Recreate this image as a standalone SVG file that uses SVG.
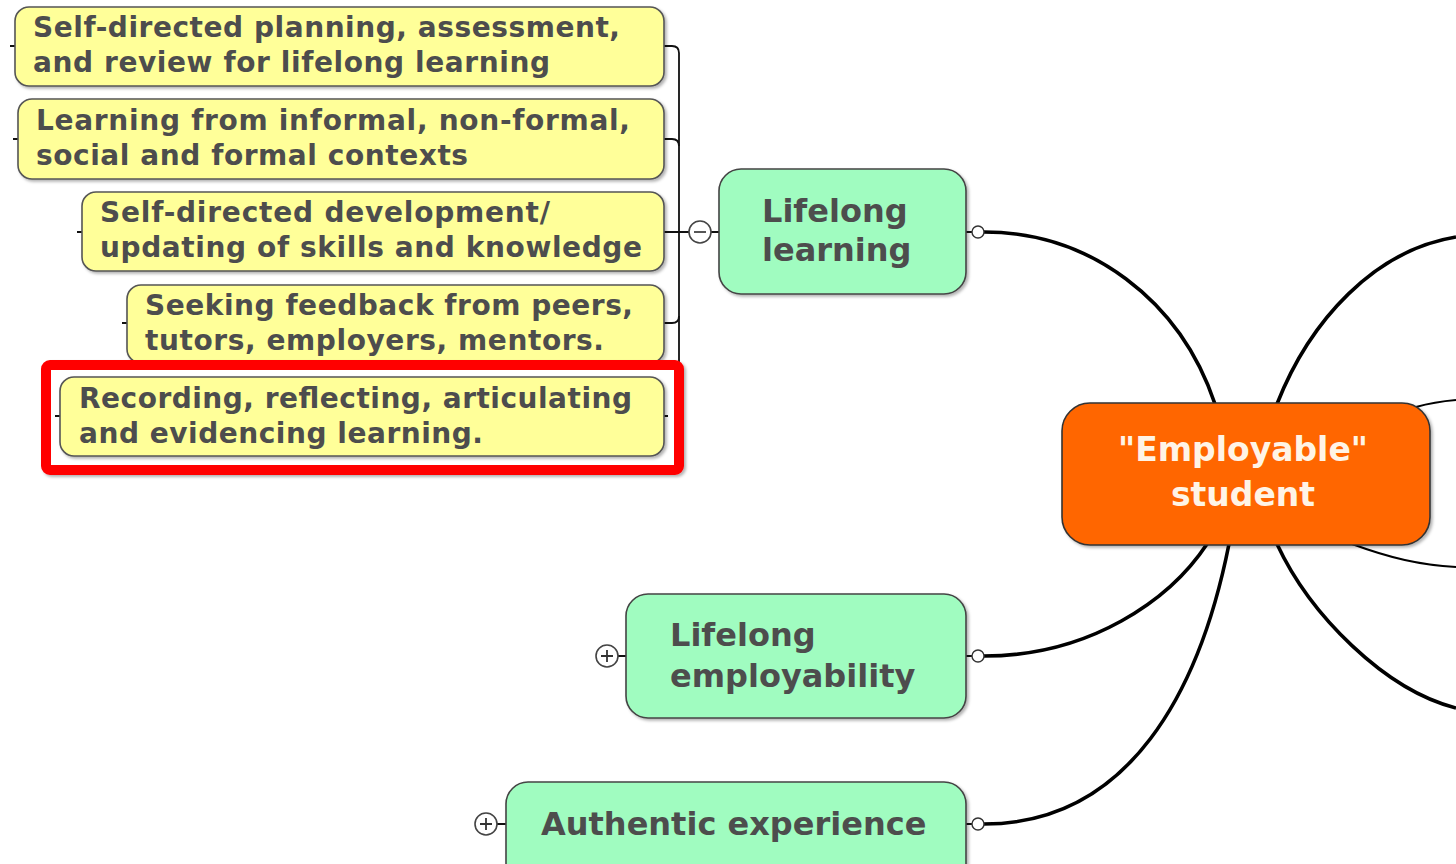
<svg xmlns="http://www.w3.org/2000/svg" width="1456" height="864" viewBox="0 0 1456 864">
<defs>
<filter id="sh" x="-10%" y="-10%" width="120%" height="130%">
<feDropShadow dx="2" dy="2" stdDeviation="1.5" flood-color="#000" flood-opacity="0.3"/>
</filter>
<style>
.yb{fill:#ffff99;stroke:#555;stroke-width:1.6}
.gb{fill:#a0fcc0;stroke:#444;stroke-width:1.6}
.yt{font-family:"DejaVu Sans",Verdana,sans-serif;font-weight:bold;font-size:28px;fill:#4d4d4d}
.gt{font-family:"DejaVu Sans",Verdana,sans-serif;font-weight:bold;font-size:32px;fill:#4d4d4d}
.ct{font-family:"DejaVu Sans",Verdana,sans-serif;font-weight:bold;font-size:33px;fill:#fff4e6}
.thick{fill:none;stroke:#000;stroke-width:3.6}
.thin{fill:none;stroke:#000;stroke-width:2}
.br{fill:none;stroke:#111;stroke-width:1.8}
.tog{fill:#fff;stroke:#444;stroke-width:1.6}
.knob{fill:#fff;stroke:#333;stroke-width:1.4}
</style>
</defs>
<rect width="1456" height="864" fill="#fff"/>

<g id="connectors">
<path class="thick" d="M984,232 C1090,232 1180,300 1215,404"/>
<path class="thick" d="M1277,404 C1310,320 1375,250 1456,237"/>
<path class="thin" d="M1416,407 C1430,403 1444,401 1456,400"/>
<path class="thin" d="M1352,544 C1390,558 1420,565 1456,567"/>
<path class="thick" d="M1277,544 C1310,615 1385,690 1456,708"/>
<path class="thick" d="M984,656 C1090,656 1170,600 1207,544"/>
<path class="thick" d="M984,824 C1130,824 1200,690 1229,544"/>
<path class="br" d="M664,46 H672 Q679,46 679,53 V409 Q679,416 672,416 H664"/>
<path class="br" d="M664,139 H672 Q679,139 679,146"/>
<path class="br" d="M664,323 H672 Q679,323 679,316"/>
<path class="br" d="M664,232 H689 M711,232 H719"/>
<path class="br" d="M10,46 H15 M13,139 H18 M77,232 H82 M122,323 H127 M55,416 H60"/>
<path class="br" d="M966,232 H972 M966,656 H972 M966,824 H972"/>
<path class="br" d="M618,656 H626 M497,824 H506"/>
</g>

<g id="n1">
<rect class="yb" x="15" y="7" width="649" height="79" rx="14" filter="url(#sh)"/>
<text class="yt" x="33" y="37" textLength="587">Self-directed planning, assessment,</text>
<text class="yt" x="33" y="72" textLength="517">and review for lifelong learning</text>
</g>
<g id="n2">
<rect class="yb" x="18" y="99" width="646" height="80" rx="14" filter="url(#sh)"/>
<text class="yt" x="36" y="130" textLength="594">Learning from informal, non-formal,</text>
<text class="yt" x="36" y="165" textLength="432">social and formal contexts</text>
</g>
<g id="n3">
<rect class="yb" x="82" y="192" width="582" height="79" rx="14" filter="url(#sh)"/>
<text class="yt" x="100" y="222" textLength="450">Self-directed development/</text>
<text class="yt" x="100" y="257" textLength="542">updating of skills and knowledge</text>
</g>
<g id="n4">
<rect class="yb" x="127" y="285" width="537" height="78" rx="14" filter="url(#sh)"/>
<text class="yt" x="145" y="315" textLength="488">Seeking feedback from peers,</text>
<text class="yt" x="145" y="350" textLength="459">tutors, employers, mentors.</text>
</g>
<g id="highlight">
<rect x="46" y="365" width="633" height="105" rx="4" fill="#fff" stroke="#ff0000" stroke-width="10" filter="url(#sh)"/>
</g>
<g id="n5">
<path class="br" d="M55,416 H60 M664,416 H668"/>
<rect class="yb" x="60" y="377" width="604" height="79" rx="14" filter="url(#sh)"/>
<text class="yt" x="79" y="408" textLength="553">Recording, reflecting, articulating</text>
<text class="yt" x="79" y="443" textLength="404">and evidencing learning.</text>
</g>

<g id="lifelong-learning">
<rect class="gb" x="719" y="169" width="247" height="125" rx="22" filter="url(#sh)"/>
<text class="gt" x="762" y="222">Lifelong</text>
<text class="gt" x="762" y="261">learning</text>
<circle class="tog" cx="700" cy="232" r="11"/>
<path d="M694,232 H706" stroke="#444" stroke-width="1.8"/>
<circle class="knob" cx="978" cy="232" r="6"/>
</g>

<g id="central">
<rect x="1062" y="403" width="368" height="142" rx="28" fill="#ff6600" stroke="#333" stroke-width="1.6" filter="url(#sh)"/>
<text class="ct" x="1243" y="461" text-anchor="middle">"Employable"</text>
<text class="ct" x="1243" y="506" text-anchor="middle">student</text>
</g>

<g id="lifelong-employability">
<rect class="gb" x="626" y="594" width="340" height="124" rx="22" filter="url(#sh)"/>
<text class="gt" x="670" y="646">Lifelong</text>
<text class="gt" x="670" y="687">employability</text>
<circle class="tog" cx="607" cy="656" r="11"/>
<path d="M601,656 H613 M607,650 V662" stroke="#333" stroke-width="1.8"/>
<circle class="knob" cx="978" cy="656" r="6"/>
</g>

<g id="authentic-experience">
<rect class="gb" x="506" y="782" width="460" height="110" rx="22" filter="url(#sh)"/>
<text class="gt" x="541" y="835">Authentic experience</text>
<circle class="tog" cx="486" cy="824" r="11"/>
<path d="M480,824 H492 M486,818 V830" stroke="#333" stroke-width="1.8"/>
<circle class="knob" cx="978" cy="824" r="6"/>
</g>
</svg>
